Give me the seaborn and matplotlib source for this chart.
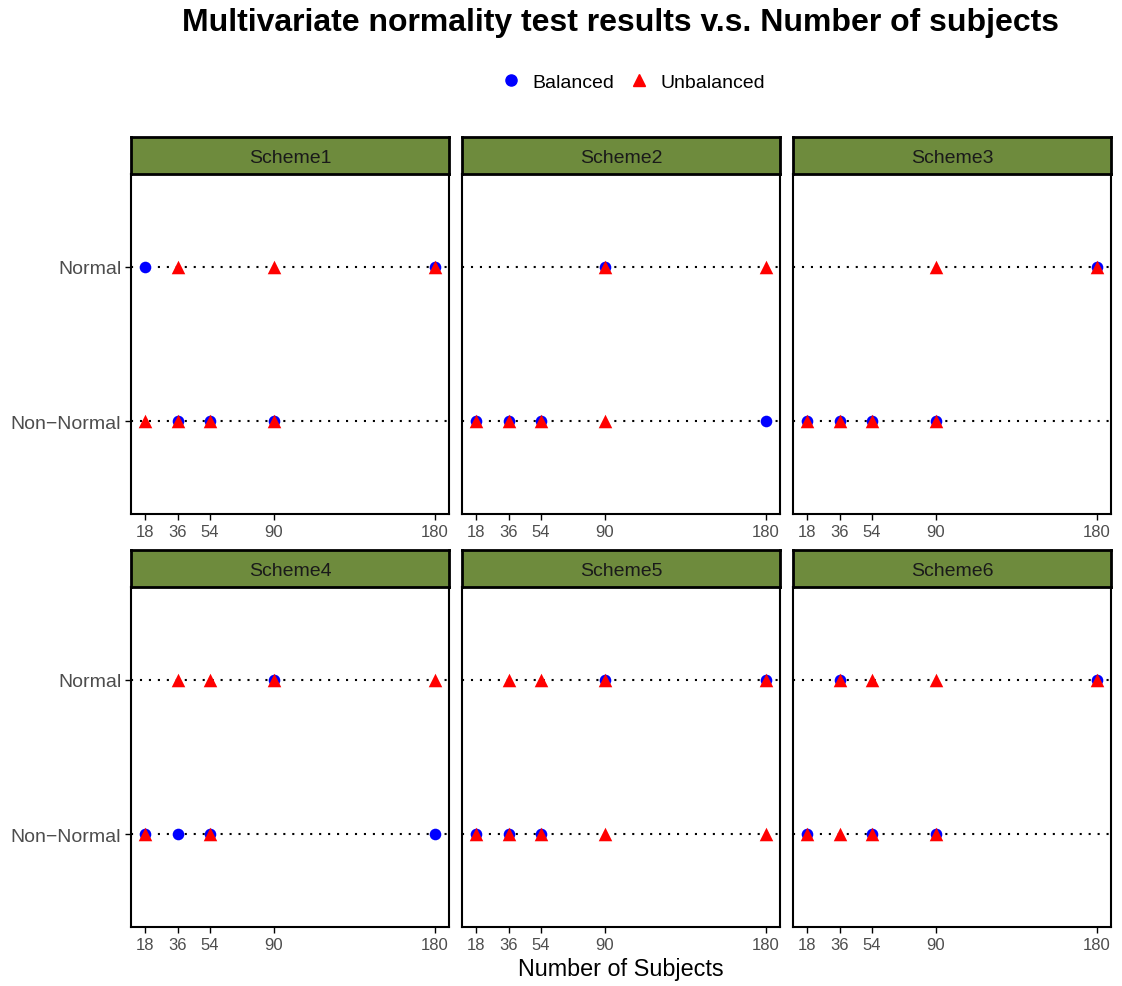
# normality_facets.py  -  mvn test outcome per scheme, balanced vs unbalanced
import pandas as pd
import matplotlib
matplotlib.use("Agg")
import matplotlib.pyplot as plt
import seaborn as sns
from matplotlib.lines import Line2D

# -------------- DATA ---------------
SIZES = [18, 36, 54, 90, 180]
SCHEMES = ["Scheme1", "Scheme2", "Scheme3", "Scheme4", "Scheme5", "Scheme6"]
GROUPS = ["Balanced", "Unbalanced"]

# x values (number of subjects) landing on each outcome
s1_balanced = {"Normal": [18, 180], "Non-Normal": [36, 54, 90]}
s1_unbalanced = {"Normal": [36, 90, 180], "Non-Normal": [18, 36, 54, 90]}
s2_balanced = {"Normal": [90], "Non-Normal": [18, 36, 54, 180]}
s2_unbalanced = {"Normal": [90, 180], "Non-Normal": [18, 36, 54, 90]}
s3_balanced = {"Normal": [180], "Non-Normal": [18, 36, 54, 90]}
s3_unbalanced = {"Normal": [90, 180], "Non-Normal": [18, 36, 54, 90]}
s4_balanced = {"Normal": [90], "Non-Normal": [18, 36, 54, 180]}
s4_unbalanced = {"Normal": [36, 54, 90, 180], "Non-Normal": [18, 54]}
s5_balanced = {"Normal": [90, 180], "Non-Normal": [18, 36, 54]}
s5_unbalanced = {"Normal": [36, 54, 90, 180], "Non-Normal": [18, 36, 54, 90, 180]}
s6_balanced = {"Normal": [36, 180], "Non-Normal": [18, 54, 90]}
s6_unbalanced = {"Normal": [36, 54, 90, 180], "Non-Normal": [18, 36, 54, 90]}

RESULTS = [(s1_balanced, s1_unbalanced), (s2_balanced, s2_unbalanced),
           (s3_balanced, s3_unbalanced), (s4_balanced, s4_unbalanced),
           (s5_balanced, s5_unbalanced), (s6_balanced, s6_unbalanced)]

Y_CODE = {"Non-Normal": 0, "Normal": 1}
Y_LABELS = ["Non\u2212Normal", "Normal"]

# -------------- STYLE ---------------
W, H = 1122, 987
FONT = "Liberation Sans"
STRIP_GREEN = "#6E8B3D"
TICK_GREY = "#4D4D4D"
PALETTE = {"Balanced": "blue", "Unbalanced": "red"}

rows = []
for scheme, (bal, unbal) in zip(SCHEMES, RESULTS):
    for grp, res in zip(GROUPS, (bal, unbal)):
        for outcome, xs in res.items():
            for n in xs:
                rows.append(dict(scheme=scheme, group=grp, n=n,
                                 outcome=outcome, y=Y_CODE[outcome]))
df = pd.DataFrame(rows)

sns.set_theme(style="white")
plt.rcParams["font.family"] = [FONT, "DejaVu Sans"]
plt.rcParams["text.color"] = "black"

fig = plt.figure(figsize=(W / 100, H / 100), dpi=100)

def fx(px):
    return px / W

def fy(px):
    return 1 - px / H

col_left = [131, 462, 793]
panel_w = 318
row_top = [175, 588]       # panel top (strip sits above)
panel_h = 340
strip_h = 37

for i, scheme in enumerate(SCHEMES):
    r, c = divmod(i, 3)
    left, top = col_left[c], row_top[r]
    ax = fig.add_axes([fx(left), fy(top + panel_h), panel_w / W, panel_h / H])

    for yv in (0, 1):
        ax.axhline(yv, color="black", lw=1.5, ls=(0, (1.0, 3.3)), zorder=1)

    sub = df[df["scheme"] == scheme]
    sns.scatterplot(data=sub[sub["group"] == "Balanced"], x="n", y="y",
                    color=PALETTE["Balanced"], marker="o", s=70,
                    linewidth=0, legend=False, ax=ax, zorder=3)
    sns.scatterplot(data=sub[sub["group"] == "Unbalanced"], x="n", y="y",
                    color=PALETTE["Unbalanced"], marker="^", s=95,
                    linewidth=0, legend=False, ax=ax, zorder=4)

    ax.set_xlim(9.9, 188.1)
    ax.set_ylim(-0.6, 1.6)
    ax.set_xticks(SIZES)
    ax.set_xticklabels([str(s) for s in SIZES])
    ax.set_xlabel("")
    ax.set_ylabel("")
    ax.tick_params(axis="x", length=4, width=1, color="black",
                   labelsize=12, labelcolor=TICK_GREY, pad=3, bottom=True)
    if c == 0:
        ax.set_yticks([0, 1])
        ax.set_yticklabels(Y_LABELS)
        ax.tick_params(axis="y", length=4, width=1, color="black",
                       labelsize=14, labelcolor=TICK_GREY, pad=3, left=True)
    else:
        ax.set_yticks([])
    for sp in ax.spines.values():
        sp.set_visible(True)
        sp.set_color("black")
        sp.set_linewidth(1.5)

    # facet strip
    sax = fig.add_axes([fx(left), fy(top), panel_w / W, strip_h / H])
    sax.set_facecolor(STRIP_GREEN)
    sax.set_xticks([])
    sax.set_yticks([])
    for sp in sax.spines.values():
        sp.set_visible(True)
        sp.set_color("black")
        sp.set_linewidth(2)
    sax.text(0.5, 0.45, scheme, ha="center", va="center", fontsize=14,
             color="#1A1A1A", transform=sax.transAxes)

# title, axis title, legend
fig.text(fx(621), fy(23), "Multivariate normality test results v.s. Number of subjects",
         ha="center", va="center", fontsize=23, fontweight="bold")
fig.text(fx(621), fy(970), "Number of Subjects", ha="center", va="center",
         fontsize=16.8)

handles = [Line2D([], [], marker="o", color="blue", ls="", markersize=8),
           Line2D([], [], marker="^", color="red", ls="", markersize=9)]
fig.legend(handles, GROUPS, loc="center", bbox_to_anchor=(fx(632), fy(83)),
           ncol=2, frameon=False, fontsize=14, handletextpad=0.5,
           columnspacing=0.7, handlelength=1.2)

fig.savefig("out.png", dpi=100)
print("saved out.png")
